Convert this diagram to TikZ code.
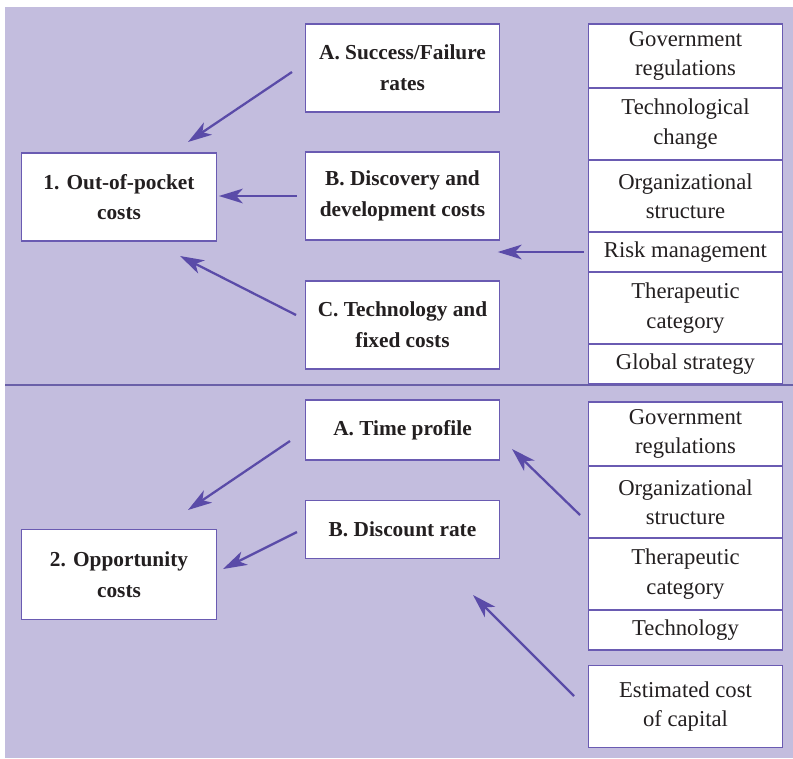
\documentclass[tikz,border=0pt]{standalone}
\usepackage{fontspec}
\setmainfont{Liberation Serif}
\usetikzlibrary{arrows.meta}
\definecolor{lav}{HTML}{C3BDDE}
\definecolor{edgec}{HTML}{6A5BB2}
\definecolor{arrowc}{HTML}{5A4BA8}
\definecolor{divc}{HTML}{6A60A8}
\definecolor{inkc}{HTML}{231F20}

\begin{document}
\begin{tikzpicture}[x=0.75pt, y=-0.75pt,
  >={Stealth[length=18pt,width=11pt,inset=5pt]},
  box/.style={draw=edgec, line width=0.8pt, fill=white, text=inkc, inner sep=0pt,
    minimum width=146pt, minimum height=66pt, align=center,
    font=\fontsize{16}{23}\selectfont\bfseries},
  cell/.style={draw=edgec, line width=0.8pt, fill=white, text=inkc, inner sep=0pt,
    minimum width=146pt, align=center, font=\fontsize{17}{22}\selectfont},
  arr/.style={->, draw=arrowc, fill=arrowc, line width=1.7pt}]
\fill[lav] (5,7) rectangle (793,758);
\useasboundingbox (0,0) rectangle (793,758);
\draw[divc, line width=1.5pt] (5,385) -- (793,385);

% out-of-pocket costs
\node[box] (oop) at (119,197) {1. Out-of-pocket\\costs};
\node[box] (succ) at (402.5,68) {A. Success/Failure\\rates};
\node[box] (disc) at (402.5,196) {B. Discovery and\\development costs};
\node[box] (tech) at (402.5,325) {C. Technology and\\fixed costs};

\node[cell, minimum height=48pt] (gov1) at (685.5,56) {Government\\regulations};
\node[cell, minimum height=54pt] (chg) at (685.5,124) {Technological\\change};
\node[cell, minimum height=54pt] (org1) at (685.5,196) {Organizational\\structure};
\node[cell, minimum height=30pt] (risk) at (685.5,252) {Risk management};
\node[cell, minimum height=54pt] (ther1) at (685.5,308) {Therapeutic\\category};
\node[cell, minimum height=30pt] (glob) at (685.5,364) {Global strategy};

% opportunity costs
\node[box, minimum height=67pt] (opp) at (119,574.5) {2. Opportunity\\costs};
\node[box, minimum height=45pt] (time) at (402.5,430) {A. Time profile};
\node[box, minimum height=44pt] (rate) at (402.5,529.5) {B. Discount rate};

\node[cell, minimum height=48pt] (gov2) at (685.5,434) {Government\\regulations};
\node[cell, minimum height=54pt] (org2) at (685.5,502) {Organizational\\structure};
\node[cell, minimum height=54pt] (ther2) at (685.5,574) {Therapeutic\\category};
\node[cell, minimum height=30pt] (techn) at (685.5,630) {Technology};
\node[cell, minimum height=61pt] (cap) at (685.5,706.5) {Estimated cost\\of capital};

% arrows
\coordinate (s1) at (292,72);  \coordinate (e1) at (188,142);
\coordinate (s3) at (296,315); \coordinate (e3) at (180,256);
\coordinate (s5) at (290,441); \coordinate (e5) at (188,510);
\coordinate (s6) at (297,532); \coordinate (e6) at (223,569);
\coordinate (s7) at (580,515); \coordinate (e7) at (512,449);
\coordinate (s8) at (574,696); \coordinate (e8) at (473,595);
\draw[arr] (s1) -- (e1);
\draw[arr, shorten <=6pt, shorten >=1.5pt] (disc.west) -- (disc.west -| oop.east);
\draw[arr] (s3) -- (e3);
\draw[arr, shorten <=3pt, shorten >=-2pt] (risk.west) -- (risk.west -| disc.east);
\draw[arr] (s5) -- (e5);
\draw[arr] (s6) -- (e6);
\draw[arr] (s7) -- (e7);
\draw[arr] (s8) -- (e8);
\end{tikzpicture}
\end{document}
